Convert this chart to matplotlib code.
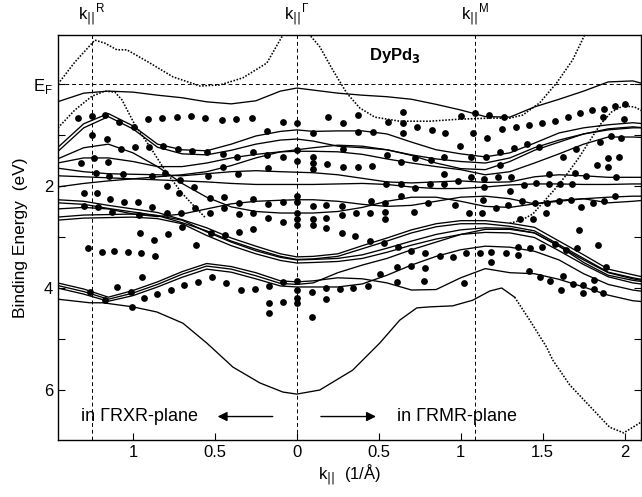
import numpy as np
import matplotlib
matplotlib.use("Agg")
import matplotlib.pyplot as plt

# ---------------- data ----------------
K = [-1.46, -1.3, -1.15, -1.0, -0.85, -0.7, -0.55, -0.4, -0.25, -0.1, 0.0,
     0.1, 0.25, 0.4, 0.55, 0.7, 0.85, 1.0, 1.15, 1.3, 1.45, 1.6, 1.75, 1.9, 2.05, 2.12]

band_A  = [0.35,0.18,0.14,0.16,0.22,0.27,0.35,0.39,0.33,0.14,0.08,0.12,0.18,0.22,0.25,0.30,0.40,0.51,0.64,0.65,0.45,0.30,0.14,-0.04,-0.06,0.0]
band_C1 = [1.25,0.78,0.58,0.82,1.18,1.29,1.31,1.18,1.02,0.93,0.90,0.93,0.92,0.92,0.98,1.14,1.29,1.37,1.43,1.35,1.16,0.96,0.86,0.80,0.76,0.78]
band_C2 = [1.33,0.86,0.64,0.88,1.24,1.37,1.39,1.30,1.18,1.10,1.08,1.12,1.22,1.25,1.29,1.40,1.55,1.66,1.68,1.52,1.30,1.14,0.98,0.88,0.84,0.86]
band_M1 = [1.65,1.72,1.76,1.77,1.78,1.80,1.76,1.72,1.70,1.72,1.73,1.74,1.78,1.85,1.92,1.94,1.92,1.90,1.93,1.92,1.82,1.78,1.80,1.83,1.83,1.83]
band_M2 = [1.80,1.82,1.84,1.86,1.88,1.90,1.92,1.95,1.97,1.97,1.97,1.97,1.96,1.95,1.97,2.02,2.05,2.05,2.02,1.98,1.96,1.96,1.97,1.97,1.96,1.96]
band_M3 = [2.02,1.95,1.90,1.86,1.82,1.78,1.72,1.60,1.45,1.33,1.29,1.25,1.20,1.22,1.29,1.39,1.47,1.52,1.55,1.45,1.25,1.10,0.98,0.90,0.86,0.86]
band_M4 = [1.47,1.25,1.18,1.35,1.62,1.95,2.22,2.41,2.50,2.53,2.53,2.53,2.50,2.42,2.30,2.22,2.22,2.30,2.40,2.42,2.35,2.28,2.25,2.22,2.20,2.20]
band_M6 = [1.55,1.45,1.45,1.52,1.62,1.62,1.55,1.45,1.38,1.33,1.32,1.32,1.33,1.38,1.47,1.55,1.62,1.68,1.78,1.72,1.55,1.37,1.18,1.04,1.04,1.05]
band_R1 = [2.45,2.42,2.45,2.55,2.60,2.55,2.45,2.35,2.30,2.28,2.27,2.27,2.30,2.36,2.40,2.38,2.30,2.22,2.20,2.25,2.35,2.30,2.25,2.33,2.30,2.28]
band_L1 = [2.27,2.30,2.38,2.45,2.52,2.66,2.82,3.02,3.18,3.33,3.39,3.38,3.33,3.17,3.02,2.86,2.74,2.68,2.68,2.73,2.81,3.08,3.35,3.63,3.74,3.79]
band_L1b = [2.33,2.36,2.44,2.51,2.58,2.72,2.88,3.08,3.24,3.38,3.44,3.43,3.38,3.23,3.08,2.92,2.80,2.74,2.74,2.79,2.88,3.15,3.42,3.69,3.80,3.84]
band_L2 = [2.61,2.57,2.56,2.55,2.58,2.67,2.90,3.10,3.27,3.40,3.45,3.44,3.42,3.35,3.22,3.08,2.95,2.86,2.82,2.83,2.92,3.18,3.45,3.70,3.82,3.86]
band_L2b = [2.67,2.63,2.62,2.61,2.64,2.74,2.97,3.17,3.33,3.46,3.51,3.50,3.48,3.42,3.30,3.16,3.04,2.95,2.91,2.92,3.01,3.27,3.54,3.78,3.90,3.93]
band_L3 = [3.90,4.02,4.18,4.05,3.88,3.68,3.52,3.58,3.70,3.86,3.88,3.86,3.80,3.82,3.90,4.04,4.03,3.80,3.62,3.70,3.72,3.83,3.98,4.14,4.25,4.27]
band_L3b = [3.95,4.07,4.22,4.10,3.93,3.73,3.57,3.63,3.76,3.91,3.93,3.90,3.70,3.55,3.42,3.25,3.10,2.95,2.85,2.85,2.92,3.18,3.50,3.75,3.85,3.88]
band_L3c = [4.00,4.12,4.26,4.15,3.98,3.79,3.63,3.69,3.82,3.96,3.98,3.98,3.98,3.92,3.75,3.55,3.38,3.25,3.18,3.20,3.28,3.45,3.72,3.93,4.04,4.07]

top_k = [-1.457,-1.354,-1.232,-1.171,-1.098,-1.037,-0.896,-0.756,-0.591,-0.470,-0.329,-0.183,-0.085,0.0,
         0.079,0.14,0.22,0.305,0.384,0.476,0.628,0.811,0.994,1.177,1.299,1.378,1.482,1.585,1.683,1.756]
top_E = [0.0,-0.43,-0.86,-0.80,-0.67,-0.67,-0.41,-0.14,0.04,0.02,-0.12,-0.41,-0.96,-2.2,
         -0.96,-0.73,-0.27,0.18,0.47,0.65,0.73,0.73,0.69,0.67,0.67,0.61,0.37,-0.02,-0.47,-0.96]

bot_k = [-1.457,-1.262,-1.183,-1.0,-0.854,-0.695,-0.549,-0.390,-0.226,-0.085,0.0,0.14,0.341,0.506,
         0.628,0.732,0.811,0.951,1.073,1.177,1.25,1.329]
bot_E = [4.22,4.29,4.29,4.37,4.47,4.69,5.08,5.55,5.86,6.04,6.08,6.00,5.61,5.08,
         4.63,4.39,4.37,4.35,4.24,4.06,4.00,4.18]
botd_k = [1.329,1.421,1.524,1.561,1.665,1.768,1.909,1.994,2.091,2.12]
botd_E = [4.18,4.63,5.16,5.41,5.90,6.25,6.73,6.84,6.65,6.55]

dotB_k = [-1.457,-1.354,-1.25,-1.171,-1.11,-1.067,-0.988,-0.884,-0.805,-0.701,-0.622,-0.561]
dotB_E = [0.86,0.51,0.24,0.14,0.16,0.31,0.80,1.29,1.69,2.14,2.41,2.61]

dotE_k = [1.30,1.37,1.44,1.50,1.57,1.65,1.72,1.79,1.85,1.92,1.99,2.06,2.12]
dotE_E = [2.73,2.67,2.55,2.33,2.08,1.76,1.45,1.10,0.80,0.55,0.43,0.45,0.55]

dots_k = [-1.337,-1.252,-1.171,-1.085,-0.994,-0.910,-0.821,-0.734,-0.646,-0.561,-0.459,-0.368,-0.276,-0.087,0.002,
          0.191,0.282,0.374,0.557,0.648,0.648,0.736,0.825,0.907,1.000,1.090,1.171,1.262,1.254,1.335,1.416,1.498,
          1.573,1.654,1.730,1.803,1.872,1.939,2.000,1.868,1.994,
          -1.248,-1.160,-0.181,0.099,0.374,0.465,0.648,1.075,1.163,1.919,1.980,1.848,0.994,
          -1.073,-0.988,-0.902,-0.815,-0.727,-0.638,-0.547,-0.453,-0.364,-0.270,-0.179,-0.087,0.002,0.096,0.279,
          0.553,0.638,0.724,0.817,0.898,1.065,1.157,1.238,1.323,1.404,1.477,1.701,1.624,1.898,1.965,
          -1.236,-1.317,-1.154,0.002,0.096,0.096,0.185,0.279,0.374,0.459,1.831,1.898,
          -1.227,-1.146,-1.063,-0.886,-0.805,-0.713,-0.626,-0.795,-0.541,-0.453,-0.358,-0.175,0.898,1.065,1.142,
          1.142,0.547,0.634,0.720,0.811,0.898,0.984,1.238,1.227,1.309,1.538,1.695,1.762,1.949,1.384,1.462,1.538,
          1.608,1.681,
          -1.297,-1.221,-1.140,-1.053,-0.971,-0.882,-0.795,-0.707,-0.622,-0.720,-1.297,-1.215,-1.130,-0.963,
          -0.530,-0.445,-0.354,-0.266,-0.175,-0.087,0.002,0.002,0.096,0.181,0.273,
          -0.530,-0.445,-0.354,-0.266,-0.175,-0.087,0.002,0.002,0.002,0.096,0.096,0.181,0.181,0.273,0.273,
          0.634,0.451,0.537,0.801,0.963,1.136,0.364,0.445,0.537,0.537,0.715,1.049,1.130,
          1.303,1.376,1.451,1.526,1.599,1.675,1.736,1.807,1.872,1.939,1.213,1.288,1.523,1.364,1.441,
          -0.957,-0.870,-0.788,-0.703,-0.612,-0.526,-0.439,-0.352,-0.266,
          -1.276,-1.191,-1.114,-1.032,-0.951,-0.866,
          0.358,0.445,0.532,0.618,0.699,0.785,0.872,0.953,1.035,1.116,1.187,1.187,
          1.721,1.837,1.709,1.640,1.573,1.498,1.425,1.349,1.349,1.274,
          -0.943,-1.099,-1.259,-1.012,-0.931,-0.854,-0.770,-0.687,-0.602,-1.171,-1.003,
          -0.520,-0.433,-0.343,-0.256,-0.169,-0.085,0.000,0.000,0.000,0.000,0.091,0.177,0.265,0.343,0.435,
          -0.169,-0.084,0.177,-0.169,0.090,
          0.506,0.610,0.695,0.780,0.610,0.776,1.020,
          1.884,1.416,1.482,1.547,1.614,1.624,1.687,1.748,1.811,1.746,1.811,1.868]
dots_E = [0.673,0.627,0.608,0.739,0.837,0.692,0.661,0.641,0.627,0.663,0.706,0.692,0.673,0.739,0.759,
          0.641,0.771,0.608,0.739,0.543,0.771,0.849,0.902,0.955,0.627,0.575,0.608,0.641,0.888,0.837,0.804,0.771,
          0.720,0.653,0.575,0.510,0.490,0.431,0.392,0.653,0.692,
          1.000,1.084,0.916,0.967,0.935,0.935,0.955,0.967,1.065,1.020,1.065,1.131,1.216,
          1.275,1.241,1.241,1.216,1.280,1.314,1.327,1.373,1.437,1.327,1.392,1.437,1.294,1.437,1.280,
          1.392,1.524,1.457,1.490,1.437,1.425,1.425,1.327,1.261,1.176,1.229,1.280,1.425,1.457,1.425,
          1.457,1.555,1.524,1.504,1.543,1.673,1.569,1.622,1.633,1.608,1.588,1.633,
          1.751,1.798,1.765,1.798,1.751,1.882,2.014,1.994,1.804,1.622,1.765,1.653,1.765,1.818,1.869,
          2.025,1.961,1.961,2.045,1.961,1.961,1.896,1.588,1.818,1.818,1.765,1.751,1.798,1.818,1.980,1.947,1.961,
          1.961,1.961,
          2.137,2.137,2.261,2.308,2.308,2.418,2.524,2.535,2.437,2.131,2.392,2.418,2.504,2.569,
          2.241,2.210,2.327,2.261,2.353,2.308,2.196,2.308,2.392,2.373,2.392,
          2.524,2.437,2.549,2.524,2.633,2.700,2.524,2.653,2.765,2.653,2.765,2.633,2.829,2.569,2.916,
          2.196,2.288,2.327,2.339,2.373,2.275,2.535,2.535,2.504,2.653,2.504,2.535,2.524,
          2.098,2.288,2.339,2.327,2.288,2.275,2.418,2.339,2.288,2.206,2.437,2.373,2.535,2.653,2.653,
          2.916,3.059,2.941,2.810,3.157,2.927,2.961,2.896,2.849,
          3.210,3.300,3.275,3.300,3.320,3.367,
          2.980,3.073,3.124,3.202,3.269,3.320,3.373,3.386,3.320,3.308,3.288,3.484,
          2.863,3.157,3.222,3.255,3.137,3.202,3.222,3.190,3.353,3.308,
          3.778,3.975,4.088,4.073,4.202,4.112,4.033,3.947,3.888,4.245,4.378,
          3.790,3.908,4.033,4.025,3.967,3.892,3.857,4.033,4.202,4.288,4.073,3.994,4.025,4.006,3.961,
          4.294,4.269,4.212,4.490,4.569,
          3.725,3.594,3.575,3.614,3.876,3.857,3.896,
          3.588,3.667,3.790,3.863,4.033,3.765,3.925,3.941,3.853,4.098,4.020,4.092]

k_points = [-1.25, 0.0, 1.085]
k_point_labels = ["R", "\u0393", "M"]
x_ticks = [-1.0, -0.5, 0.0, 0.5, 1.0, 1.5, 2.0]
x_tick_labels = ["1", "0.5", "0", "0.5", "1", "1.5", "2"]
y_ticks = [0, 2, 4, 6]
y_tick_labels = ["E$_\\mathregular{F}$", "2", "4", "6"]

# ---------------- figure ----------------
plt.rcParams['font.family'] = ['Liberation Sans', 'DejaVu Sans']
fig = plt.figure(figsize=(6.42, 4.97), dpi=100)
ax = fig.add_axes([58/642, 1-440/497, (641-58)/642, (440-35)/497])
ax.set_xlim(-1.457, 2.10)
ax.set_ylim(6.98, -0.96)

lw = 0.95
dot_ls = (0, (1.0, 1.0))
solid_bands = [band_A, band_C1, band_C2, band_M1, band_M2, band_M3, band_M4, band_M6, band_R1,
               band_L1, band_L1b, band_L2, band_L2b, band_L3, band_L3b, band_L3c]
for b in solid_bands:
    ax.plot(K, b, color='black', lw=lw, solid_joinstyle='round')
for kk, ee in [(top_k, top_E), (botd_k, botd_E), (dotB_k, dotB_E), (dotE_k, dotE_E)]:
    ax.plot(kk, ee, color='black', lw=1.15, ls=dot_ls, dash_capstyle='butt')
ax.plot(bot_k, bot_E, color='black', lw=lw)

ax.scatter(dots_k, dots_E, s=24, color='black', zorder=5, linewidths=0)

for kp in k_points:
    ax.axvline(kp, color='black', lw=0.7, ls=(0, (4, 3)))
ax.axhline(0, color='black', lw=0.7, ls=(0, (4, 3)))

ax.set_xticks(x_ticks)
ax.set_xticklabels(x_tick_labels, fontsize=12)
ax.set_yticks(y_ticks)
ax.set_yticklabels(y_tick_labels, fontsize=12)
ax.set_yticks([1, 3, 5], minor=True)
ax.tick_params(which='both', direction='in', length=5, width=0.8, top=False, right=True)
for s in ax.spines.values():
    s.set_linewidth(1.0)

for kp, lab in zip(k_points, k_point_labels):
    ax.text(kp, -1.12, "k$_{||}$$^{\\mathregular{%s}}$" % lab, ha='center', va='bottom', fontsize=12)

ax.text(0.60, -0.55, "DyPd$_\\mathbf{3}$", fontsize=12, fontweight='bold', ha='center', va='center')

ax.text(-0.96, 6.52, "in \u0393RXR-plane", fontsize=13, ha='center', va='center')
ax.text(0.98, 6.52, "in \u0393RMR-plane", fontsize=13, ha='center', va='center')
ax.annotate("", xy=(-0.50, 6.52), xytext=(-0.13, 6.52),
            arrowprops=dict(arrowstyle='-|>', color='black', lw=1.0, mutation_scale=14))
ax.annotate("", xy=(0.50, 6.52), xytext=(0.13, 6.52),
            arrowprops=dict(arrowstyle='-|>', color='black', lw=1.0, mutation_scale=14))

ax.set_ylabel("Binding Energy  (eV)", fontsize=12.5)
ax.set_xlabel("k$_{||}$  (1/\u00c5)", fontsize=12, labelpad=2)

fig.savefig("out.png", dpi=100)
